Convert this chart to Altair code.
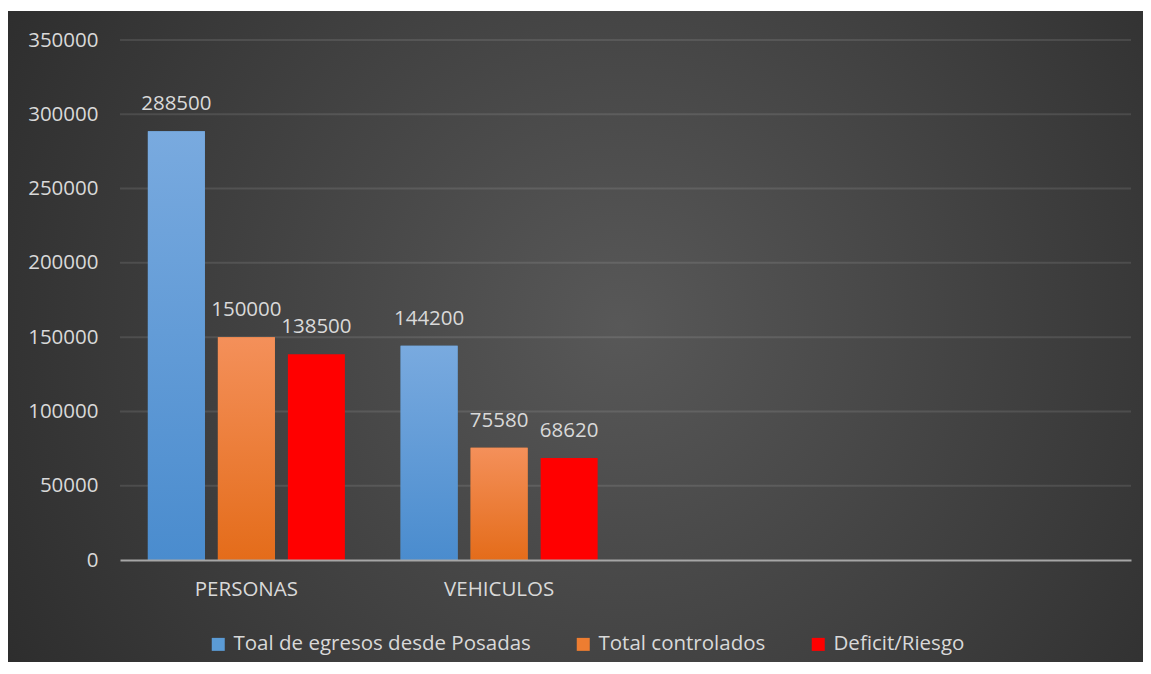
import altair as alt
import pandas as pd

# ---- data ----
categories = ["PERSONAS", "VEHICULOS"]
empty_slots = [" ", "  "]
series = ["Toal de egresos desde Posadas", "Total controlados", "Deficit/Riesgo"]
personas = [288500, 150000, 138500]
vehiculos = [144200, 75580, 68620]
y_ticks = [0, 50000, 100000, 150000, 200000, 250000, 300000, 350000]

rows = []
for cat, vals in zip(categories, [personas, vehiculos]):
    for s, v in zip(series, vals):
        rows.append({"cat": cat, "serie": s, "valor": v})
df = pd.DataFrame(rows)
grid_df = pd.DataFrame({"valor": y_ticks[1:]})

W, H = 1011, 520
PAD = {"left": 112, "top": 32, "right": 12, "bottom": 102}
FONT = "Open Sans"
FS = 20.5
TXT = "#d9d9d9"

x_enc = alt.X(
    "cat:N",
    scale=alt.Scale(domain=categories + empty_slots, paddingInner=0, paddingOuter=0),
    axis=alt.Axis(title=None, labelAngle=0, ticks=False, grid=False, zindex=1,
                  domainColor="#a6a6a6", domainWidth=2,
                  labelFont=FONT, labelFontSize=FS, labelColor=TXT, labelPadding=19),
)
xo_enc = alt.XOffset("serie:N", scale=alt.Scale(domain=series, paddingInner=0.186, paddingOuter=0.398))
y_scale = alt.Scale(domain=[0, 350000], nice=False)
y_axis = alt.Axis(title=None, values=y_ticks, format="d", domain=False, ticks=False,
                  grid=False, zindex=1,
                  labelFont=FONT, labelFontSize=FS, labelColor=TXT, labelPadding=22)
y_enc = alt.Y("valor:Q", scale=y_scale, axis=y_axis)

bg = alt.Chart(pd.DataFrame({"a": [0]})).mark_rect(
    color={"gradient": "radial", "x1": 0.54, "y1": 0.49, "r1": 0,
           "x2": 0.54, "y2": 0.49, "r2": 0.74,
           "stops": [{"offset": 0, "color": "#585858"}, {"offset": 1, "color": "#252525"}]}
).encode(
    x=alt.value(-PAD["left"]), x2=alt.value(W + PAD["right"]),
    y=alt.value(-29), y2=alt.value(H + PAD["bottom"]),
)

grid = alt.Chart(grid_df).mark_rule(color="#ffffff", opacity=0.1, strokeWidth=2).encode(
    y=y_enc,
    x=alt.value(0), x2=alt.value(W),
)

bars = alt.Chart(df).mark_bar().encode(
    x=x_enc, xOffset=xo_enc, y=y_enc,
    color=alt.Color("serie:N",
                    scale=alt.Scale(domain=series, range=["#5b9bd5", "#ed7d31", "#ff0000"]),
                    legend=alt.Legend(title=None, orient="none", direction="horizontal",
                                      legendX=88, legendY=594, padding=0,
                                      labelFont=FONT, labelFontSize=FS, labelColor=TXT,
                                      labelLimit=500,
                                      symbolType="square", symbolSize=169, symbolStrokeWidth=0,
                                      columnPadding=42, labelOffset=5)),
)

def grad(top, bottom):
    return {"gradient": "linear", "x1": 0, "y1": 0, "x2": 0, "y2": 1,
            "stops": [{"offset": 0, "color": top}, {"offset": 1, "color": bottom}]}

blue = alt.Chart(df).transform_filter(alt.datum.serie == series[0]).mark_bar(
    color=grad("#79aadf", "#4a8cce")).encode(x=x_enc, xOffset=xo_enc, y=y_enc)
orange = alt.Chart(df).transform_filter(alt.datum.serie == series[1]).mark_bar(
    color=grad("#f4905a", "#e46c1a")).encode(x=x_enc, xOffset=xo_enc, y=y_enc)

labels = alt.Chart(df).mark_text(
    font=FONT, fontSize=FS, color=TXT, baseline="middle", align="center", dy=-27
).encode(x=x_enc, xOffset=xo_enc, y=y_enc, text=alt.Text("valor:Q", format="d"))

chart = alt.layer(bg, grid, bars, blue, orange, labels).properties(
    width=W, height=H, padding=PAD,
    autosize=alt.AutoSizeParams(type="none"),
    background="white",
).configure_view(stroke=None)

chart.save("out.html", embed_options={"renderer": "svg", "actions": False})
